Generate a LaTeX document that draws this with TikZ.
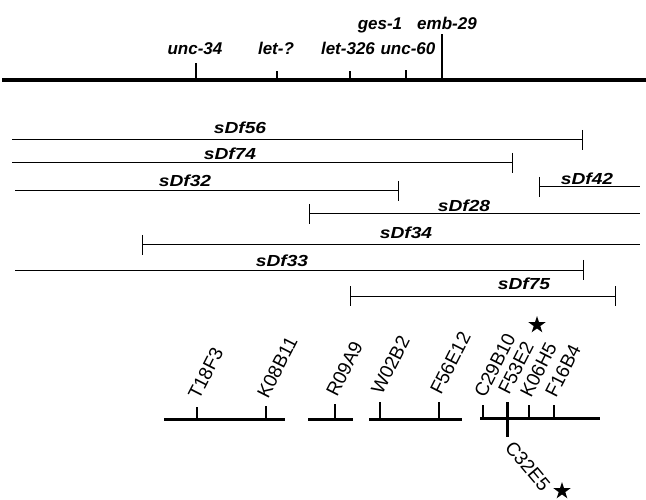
\documentclass[tikz,border=0pt]{standalone}
\usepackage{fontspec}
\setmainfont{Liberation Sans}
\newfontfamily\genefont{Liberation Sans}
\newfontfamily\dffont[FakeStretch=1.2]{Liberation Sans}
\usetikzlibrary{shapes.geometric}
\tikzset{
  gene/.style={font=\genefont\bfseries\itshape\fontsize{17}{19}\selectfont, anchor=base, inner sep=0pt},
  dflabel/.style={font=\dffont\bfseries\itshape\fontsize{16}{18}\selectfont, anchor=base, inner sep=0pt},
  cosmid/.style={font=\fontsize{19}{21}\selectfont, anchor=base west, inner sep=0pt, rotate=63},
  cosmiddown/.style={font=\fontsize{19}{21}\selectfont, anchor=base west, inner sep=0pt, rotate=-50},
  chrom/.style={line width=3.5pt},
  tickmark/.style={line width=2.5pt},
  dfline/.style={line width=1pt},
  cline/.style={line width=3pt},
  starnode/.style={star, star points=5, star point ratio=2.6, fill=black, draw=none, inner sep=0pt, minimum size=18pt}
}
\begin{document}
\begin{tikzpicture}[x=1pt,y=-1pt]
\path[use as bounding box] (0,0) rectangle (646,500);

% genetic map
\coordinate (chrL) at (2,80);
\coordinate (chrR) at (646,80);
\draw[chrom] (chrL) -- (chrR);
\foreach \n/\x/\t in {unc34/196/63, letq/277/71, let326/350/71, unc60/406/70, emb29/442/34}{
  \coordinate (\n-b) at (\x,80);
  \coordinate (\n-t) at (\x,\t);
  \draw[tickmark] (\n-b) -- (\n-t);
}
\node[gene] (l-unc34) at (195,55) {unc-34};
\node[gene] (l-letq) at (276,55) {let-?};
\node[gene] (l-let326) at (348,55) {let-326};
\node[gene] (l-unc60) at (408,55) {unc-60};
\node[gene] (l-ges1) at (380,30) {ges-1};
\node[gene] (l-emb29) at (447,30) {emb-29};

% deficiencies
\foreach \n/\xa/\xb/\y/\ba/\bb in {
  56/12/582/140/0/1,
  74/12/512/163/0/1,
  32/15/398/191/0/1,
  42/539/640/187/1/0,
  28/309/640/214/1/0,
  34/142/640/245/1/0,
  33/15/583/270/0/1,
  75/350/615/296/1/1}{
  \coordinate (df\n-a) at (\xa,\y);
  \coordinate (df\n-b) at (\xb,\y);
  \draw[dfline] (df\n-a) -- (df\n-b);
  \ifnum\ba=1 \draw[dfline] ([yshift=10pt]df\n-a) -- ([yshift=-10pt]df\n-a); \fi
  \ifnum\bb=1 \draw[dfline] ([yshift=10pt]df\n-b) -- ([yshift=-10pt]df\n-b); \fi
}
\node[dflabel] (l-df56) at (240,134) {sDf56};
\node[dflabel] (l-df74) at (230,160) {sDf74};
\node[dflabel] (l-df32) at (185,187) {sDf32};
\node[dflabel] (l-df42) at (587,185) {sDf42};
\node[dflabel] (l-df28) at (464,212) {sDf28};
\node[dflabel] (l-df34) at (406,239) {sDf34};
\node[dflabel] (l-df33) at (282,266) {sDf33};
\node[dflabel] (l-df75) at (524,289) {sDf75};

% physical map
\foreach \n/\xa/\xb/\y in {1/164/285/419, 2/308/353/419, 3/369/462/419, 4/480/600/418}{
  \coordinate (seg\n-a) at (\xa,\y);
  \coordinate (seg\n-b) at (\xb,\y);
  \draw[cline] (seg\n-a) -- (seg\n-b);
}
\foreach \n/\x/\t/\y in {T18F3/197/407/419, K08B11/266/406/419, R09A9/335/404/419, W02B2/380/402/419, F56E12/439/402/419, C29B10/483/405/418, K06H5/529/405/418, F16B4/554/405/418}{
  \coordinate (tk\n-b) at (\x,\y);
  \coordinate (tk\n-t) at (\x,\t);
  \draw[tickmark] (tk\n-b) -- (tk\n-t);
  \node[cosmid] (l\n) at ([shift={(2pt,6pt)}]tk\n-t) {\n};
}
\coordinate (tkF53E2-t) at (507,402);
\coordinate (tkF53E2-b) at (507,437);
\draw[line width=3pt] (tkF53E2-t) -- (tkF53E2-b);
\node[cosmid] (lF53E2) at ([shift={(2pt,6pt)}]tkF53E2-t) {F53E2};
\node[cosmiddown] (lC32E5) at ([shift={(-3pt,-11pt)}]tkF53E2-b) {C32E5};
\node[starnode] (star1) at (537,325) {};
\node[starnode] (star2) at (562,491) {};
\end{tikzpicture}
\end{document}
